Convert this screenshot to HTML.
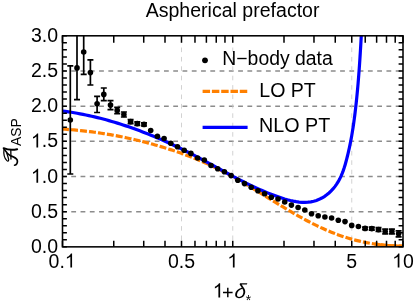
<!DOCTYPE html><html><head><meta charset="utf-8"><style>html,body{margin:0;padding:0;background:#fff}</style></head><body><svg width="415" height="305" viewBox="0 0 415 305" style="display:block;will-change:transform;font-family:'Liberation Sans',sans-serif"><rect width="415" height="305" fill="#fff"/><defs><clipPath id="c"><rect x="62.5" y="35.8" width="340.5" height="211.05"/></clipPath></defs><path d="M62.0 211.67H403.0M62.0 176.50H403.0M62.0 141.32H403.0M62.0 106.15H403.0M62.0 70.97H403.0" stroke="#8c8c8c" stroke-width="1.45" stroke-dasharray="4.8 4.47" fill="none"/><path d="M181.50 38.1V246.85M232.75 38.1V246.85M351.75 38.1V246.85" stroke="#c6c6c6" stroke-width="0.8" stroke-dasharray="4.6 4.8" fill="none"/><g clip-path="url(#c)" fill="none"><path d="M62.53 129.10L64.81 129.25L67.10 129.41L69.38 129.58L71.66 129.76L73.95 129.95L76.23 130.16L78.51 130.38L80.79 130.61L83.07 130.85L85.35 131.10L87.63 131.37L89.90 131.65L92.18 131.94L94.45 132.24L96.72 132.55L99.00 132.88L101.27 133.22L103.53 133.57L105.80 133.93L108.07 134.31L110.33 134.69L112.59 135.09L114.85 135.50L117.11 135.92L119.36 136.36L121.62 136.80L123.87 137.26L126.12 137.73L128.36 138.21L130.61 138.71L132.85 139.21L135.09 139.73L137.32 140.26L139.56 140.80L141.79 141.35L144.01 141.92L146.24 142.50L148.46 143.08L150.68 143.68L152.89 144.30L155.11 144.92L157.31 145.56L159.52 146.21L161.72 146.86L163.92 147.54L166.11 148.22L168.30 148.91L170.49 149.62L172.67 150.34L174.85 151.07L177.02 151.82L179.19 152.57L181.35 153.34L183.51 154.12L185.66 154.92L187.81 155.72L189.96 156.54L192.09 157.38L194.23 158.22L196.35 159.08L198.47 159.96L200.59 160.84L202.69 161.74L204.80 162.66L206.89 163.58L208.98 164.53L211.06 165.48L213.13 166.45L215.20 167.44L217.26 168.44L219.31 169.45L221.35 170.48L223.39 171.52L225.42 172.58L227.44 173.65L229.45 174.74L231.46 175.84L233.46 176.95L235.45 178.07L237.44 179.21L239.42 180.35L241.40 181.51L243.38 182.67L245.35 183.84L247.31 185.02L249.28 186.21L251.24 187.40L253.20 188.59L255.16 189.80L257.11 191.00L259.07 192.21L261.02 193.42L262.98 194.64L264.93 195.86L266.89 197.07L268.85 198.29L270.81 199.50L272.77 200.72L274.73 201.93L276.70 203.14L278.66 204.35L280.63 205.55L282.60 206.74L284.58 207.94L286.56 209.12L288.54 210.30L290.52 211.47L292.51 212.63L294.51 213.78L296.50 214.92L298.50 216.06L300.51 217.18L302.52 218.29L304.54 219.38L306.56 220.47L308.59 221.54L310.63 222.59L312.67 223.63L314.72 224.65L316.77 225.66L318.83 226.64L320.90 227.61L322.98 228.57L325.06 229.50L327.15 230.41L329.25 231.30L331.36 232.17L333.47 233.01L335.60 233.84L337.73 234.63L339.88 235.41L342.03 236.16L344.19 236.88L346.37 237.58L348.55 238.25L350.74 238.89L352.95 239.50L355.16 240.09L357.38 240.64L359.61 241.18L361.85 241.68L364.10 242.16L366.35 242.60L368.62 243.03L370.89 243.42L373.16 243.79L375.44 244.13L377.73 244.45L380.02 244.74L382.32 245.00L384.62 245.24L386.92 245.45L389.23 245.64L391.54 245.80L393.86 245.94L396.17 246.05L398.49 246.13L400.81 246.19L403.13 246.23" stroke="#ff8000" stroke-width="3.2" stroke-dasharray="6.95 2.08" stroke-dashoffset="0.5"/><path d="M374.64 244.02L375.55 244.15L376.46 244.28L377.37 244.40L378.28 244.52L379.19 244.64L380.11 244.75L381.02 244.86L381.94 244.96L382.85 245.06L383.77 245.16L384.69 245.25L385.61 245.34L386.52 245.42L387.44 245.50L388.36 245.57L389.28 245.64L390.20 245.71L391.13 245.77L392.05 245.83L392.97 245.89L393.89 245.94L394.81 245.99L395.74 246.03L396.66 246.07L397.58 246.10L398.51 246.13L399.43 246.16L400.36 246.18L401.28 246.20L402.20 246.22L403.13 246.23" stroke="#ff8000" stroke-width="3.2"/><path d="M62.49 111.01L65.44 111.41L68.38 111.83L71.32 112.29L74.25 112.77L77.17 113.28L80.09 113.81L83.00 114.38L85.90 114.97L88.80 115.58L91.69 116.23L94.58 116.90L97.46 117.59L100.33 118.31L103.20 119.06L106.06 119.82L108.91 120.62L111.76 121.43L114.60 122.27L117.43 123.14L120.26 124.02L123.08 124.93L125.89 125.86L128.70 126.81L131.50 127.78L134.29 128.78L137.08 129.79L139.86 130.83L142.63 131.88L145.39 132.95L148.15 134.05L150.90 135.16L153.65 136.29L156.38 137.43L159.11 138.60L161.83 139.78L164.55 140.98L167.26 142.20L169.95 143.43L172.65 144.68L175.33 145.94L178.01 147.22L180.68 148.51L183.34 149.82L186.00 151.14L188.64 152.48L191.28 153.83L193.91 155.19L196.54 156.56L199.16 157.95L201.77 159.35L204.37 160.75L206.97 162.16L209.57 163.58L212.17 165.00L214.76 166.42L217.35 167.84L219.94 169.26L222.54 170.68L225.13 172.10L227.73 173.51L230.34 174.91L232.94 176.30L235.56 177.68L238.18 179.05L240.80 180.41L243.44 181.75L246.08 183.07L248.74 184.38L251.40 185.66L254.08 186.93L256.77 188.17L259.47 189.38L262.19 190.57L264.93 191.74L267.68 192.87L270.45 193.97L273.24 195.04L276.04 196.08L278.87 197.08L281.71 198.04L284.58 198.95L287.46 199.78L290.36 200.53L293.28 201.17L296.20 201.69L299.14 202.08L302.09 202.30L305.03 202.35L307.95 202.21L310.84 201.85L313.69 201.26L316.46 200.43L319.16 199.36L321.77 198.05L324.29 196.54L326.70 194.83L328.99 192.94L331.16 190.90L333.19 188.71L335.07 186.39L336.80 183.96L338.36 181.44L339.78 178.84L341.05 176.16L342.20 173.42L343.25 170.63L344.20 167.80L345.08 164.93L345.90 162.05L346.67 159.16L347.40 156.26L348.10 153.36L348.77 150.46L349.41 147.56L350.01 144.65L350.59 141.75L351.15 138.84L351.67 135.92L352.17 133.01L352.65 130.09L353.11 127.17L353.54 124.25L353.96 121.32L354.36 118.39L354.74 115.46L355.10 112.53L355.45 109.60L355.79 106.66L356.12 103.72L356.43 100.77L356.74 97.83L357.03 94.88L357.31 91.93L357.59 88.98L357.85 86.03L358.11 83.07L358.35 80.12L358.59 77.16L358.82 74.20L359.05 71.24L359.26 68.28L359.47 65.32L359.67 62.36L359.87 59.40L360.06 56.43L360.25 53.47L360.43 50.51L360.61 47.54L360.78 44.58L360.95 41.62L361.12 38.66L361.28 35.70L361.44 32.74L361.60 29.78L361.75 26.82L361.91 23.87L362.06 20.91L362.22 17.96L362.37 15.01" stroke="#0000ff" stroke-width="3.2"/><path d="M70.30 65.80V174.00M67.30 65.80h6.0M67.30 174.00h6.0M77.00 0.00V99.70M74.00 0.00h6.0M74.00 99.70h6.0M83.70 0.00V74.40M80.70 0.00h6.0M80.70 74.40h6.0M90.40 59.90V85.00M87.40 59.90h6.0M87.40 85.00h6.0M97.10 96.40V112.50M94.10 96.40h6.0M94.10 112.50h6.0M103.80 88.00V100.70M100.80 88.00h6.0M100.80 100.70h6.0M110.50 100.70V109.70M107.50 100.70h6.0M107.50 109.70h6.0M117.20 107.30V113.70M114.20 107.30h6.0M114.20 113.70h6.0M123.90 112.00V117.00M120.90 112.00h6.0M120.90 117.00h6.0M130.60 119.60V123.60M127.60 119.60h6.0M127.60 123.60h6.0M137.30 121.80V125.40M134.30 121.80h6.0M134.30 125.40h6.0M144.00 122.80V126.00M141.00 122.80h6.0M141.00 126.00h6.0M365.10 227.20V229.60M362.10 227.20h6.0M362.10 229.60h6.0M371.80 227.10V230.10M368.80 227.10h6.0M368.80 230.10h6.0M378.50 227.70V231.50M375.50 227.70h6.0M375.50 231.50h6.0M385.20 229.20V233.80M382.20 229.20h6.0M382.20 233.80h6.0M391.90 229.10V233.90M388.90 229.10h6.0M388.90 233.90h6.0M398.60 230.80V236.80M395.60 230.80h6.0M395.60 236.80h6.0" stroke="#000" stroke-width="1.7"/><g fill="#000"><circle cx="70.30" cy="120.00" r="2.8"/><circle cx="77.00" cy="67.90" r="2.8"/><circle cx="83.70" cy="52.00" r="2.8"/><circle cx="90.40" cy="72.60" r="2.8"/><circle cx="97.10" cy="103.80" r="2.8"/><circle cx="103.80" cy="94.40" r="2.8"/><circle cx="110.50" cy="105.10" r="2.8"/><circle cx="117.20" cy="110.40" r="2.8"/><circle cx="123.90" cy="114.50" r="2.8"/><circle cx="130.60" cy="121.60" r="2.8"/><circle cx="137.30" cy="123.60" r="2.8"/><circle cx="144.00" cy="124.40" r="2.8"/><circle cx="150.70" cy="130.50" r="2.8"/><circle cx="157.40" cy="136.30" r="2.8"/><circle cx="164.10" cy="138.50" r="2.8"/><circle cx="170.80" cy="143.20" r="2.8"/><circle cx="177.50" cy="146.80" r="2.8"/><circle cx="184.20" cy="150.30" r="2.8"/><circle cx="190.90" cy="153.40" r="2.8"/><circle cx="197.60" cy="158.00" r="2.8"/><circle cx="204.30" cy="160.00" r="2.8"/><circle cx="211.00" cy="165.50" r="2.8"/><circle cx="217.70" cy="168.70" r="2.8"/><circle cx="224.40" cy="171.80" r="2.8"/><circle cx="231.10" cy="175.60" r="2.8"/><circle cx="237.80" cy="180.30" r="2.8"/><circle cx="244.50" cy="183.60" r="2.8"/><circle cx="251.20" cy="187.20" r="2.8"/><circle cx="257.90" cy="190.70" r="2.8"/><circle cx="264.60" cy="193.70" r="2.8"/><circle cx="271.30" cy="197.30" r="2.8"/><circle cx="278.00" cy="199.00" r="2.8"/><circle cx="284.70" cy="202.00" r="2.8"/><circle cx="291.40" cy="205.10" r="2.8"/><circle cx="298.10" cy="207.50" r="2.8"/><circle cx="304.80" cy="210.00" r="2.8"/><circle cx="311.50" cy="213.80" r="2.8"/><circle cx="318.20" cy="215.80" r="2.8"/><circle cx="324.90" cy="217.00" r="2.8"/><circle cx="331.60" cy="218.00" r="2.8"/><circle cx="338.30" cy="220.20" r="2.8"/><circle cx="345.00" cy="221.60" r="2.8"/><circle cx="351.70" cy="225.40" r="2.8"/><circle cx="358.40" cy="226.50" r="2.8"/><circle cx="365.10" cy="228.40" r="2.8"/><circle cx="371.80" cy="228.60" r="2.8"/><circle cx="378.50" cy="229.60" r="2.8"/><circle cx="385.20" cy="231.50" r="2.8"/><circle cx="391.90" cy="231.50" r="2.8"/><circle cx="398.60" cy="233.80" r="2.8"/></g></g><path d="M62.50 246.85v-6M62.50 35.8v7M113.75 246.85v-6M113.75 35.8v7M143.73 246.85v-6M143.73 35.8v7M165.00 246.85v-6M165.00 35.8v7M181.50 246.85v-6M181.50 35.8v7M194.98 246.85v-6M194.98 35.8v7M206.38 246.85v-6M206.38 35.8v7M216.25 246.85v-6M216.25 35.8v7M224.96 246.85v-6M224.96 35.8v7M232.75 246.85v-6M232.75 35.8v7M284.00 246.85v-6M284.00 35.8v7M313.98 246.85v-6M313.98 35.8v7M335.25 246.85v-6M335.25 35.8v7M351.75 246.85v-6M351.75 35.8v7M365.23 246.85v-6M365.23 35.8v7M376.63 246.85v-6M376.63 35.8v7M386.50 246.85v-6M386.50 35.8v7M395.21 246.85v-6M395.21 35.8v7M403.00 246.85v-6M403.00 35.8v7M62.5 246.85h4.4M403.0 246.85h-4.4M62.5 239.81h4.4M403.0 239.81h-4.4M62.5 232.78h4.4M403.0 232.78h-4.4M62.5 225.75h4.4M403.0 225.75h-4.4M62.5 218.71h4.4M403.0 218.71h-4.4M62.5 211.67h4.4M403.0 211.67h-4.4M62.5 204.64h4.4M403.0 204.64h-4.4M62.5 197.60h4.4M403.0 197.60h-4.4M62.5 190.57h4.4M403.0 190.57h-4.4M62.5 183.53h4.4M403.0 183.53h-4.4M62.5 176.50h4.4M403.0 176.50h-4.4M62.5 169.46h4.4M403.0 169.46h-4.4M62.5 162.43h4.4M403.0 162.43h-4.4M62.5 155.39h4.4M403.0 155.39h-4.4M62.5 148.36h4.4M403.0 148.36h-4.4M62.5 141.32h4.4M403.0 141.32h-4.4M62.5 134.29h4.4M403.0 134.29h-4.4M62.5 127.25h4.4M403.0 127.25h-4.4M62.5 120.22h4.4M403.0 120.22h-4.4M62.5 113.18h4.4M403.0 113.18h-4.4M62.5 106.15h4.4M403.0 106.15h-4.4M62.5 99.11h4.4M403.0 99.11h-4.4M62.5 92.08h4.4M403.0 92.08h-4.4M62.5 85.04h4.4M403.0 85.04h-4.4M62.5 78.01h4.4M403.0 78.01h-4.4M62.5 70.97h4.4M403.0 70.97h-4.4M62.5 63.94h4.4M403.0 63.94h-4.4M62.5 56.90h4.4M403.0 56.90h-4.4M62.5 49.87h4.4M403.0 49.87h-4.4M62.5 42.83h4.4M403.0 42.83h-4.4M62.5 35.80h4.4M403.0 35.80h-4.4" stroke="#000" stroke-width="1.5" fill="none"/><rect x="62.5" y="35.8" width="340.5" height="211.05" fill="none" stroke="#000" stroke-width="1.55"/><g font-size="19.5" fill="#000"><text x="58" y="253.15" text-anchor="end">0.0</text><text x="58" y="217.91" text-anchor="end">0.5</text><path transform="translate(30.89,182.67) scale(0.00952,-0.00952)" d="M763 0H583V1147Q518 1085 412.5 1023T223 930V1104Q373 1174.5 485 1275T644 1470H763Z"/><text x="41.74" y="182.67">.0</text><path transform="translate(30.89,147.42) scale(0.00952,-0.00952)" d="M763 0H583V1147Q518 1085 412.5 1023T223 930V1104Q373 1174.5 485 1275T644 1470H763Z"/><text x="41.74" y="147.42">.5</text><text x="58" y="112.18" text-anchor="end">2.0</text><text x="58" y="76.94" text-anchor="end">2.5</text><text x="58" y="41.70" text-anchor="end">3.0</text><text x="48.55" y="267.6">0.</text><path transform="translate(64.81,267.60) scale(0.00952,-0.00952)" d="M763 0H583V1147Q518 1085 412.5 1023T223 930V1104Q373 1174.5 485 1275T644 1470H763Z"/><text x="181.50" y="267.6" text-anchor="middle">0.5</text><path transform="translate(227.33,267.60) scale(0.00952,-0.00952)" d="M763 0H583V1147Q518 1085 412.5 1023T223 930V1104Q373 1174.5 485 1275T644 1470H763Z"/><text x="351.75" y="267.6" text-anchor="middle">5</text><path transform="translate(392.16,267.60) scale(0.00952,-0.00952)" d="M763 0H583V1147Q518 1085 412.5 1023T223 930V1104Q373 1174.5 485 1275T644 1470H763Z"/><text x="403.00" y="267.6">0</text><text x="145.7" y="17.3" font-size="19.5" textLength="173.8" lengthAdjust="spacingAndGlyphs">Aspherical prefactor</text><path transform="translate(212.70,297.50) scale(0.00977,-0.00977)" d="M763 0H583V1147Q518 1085 412.5 1023T223 930V1104Q373 1174.5 485 1275T644 1470H763Z"/><text transform="translate(233.9,297.7) skewX(-7)" font-style="italic" font-size="20.4">δ</text><path d="M223.0 292.45H232.6M227.8 287.7V297.2" stroke="#000" stroke-width="1.45" fill="none"/><text x="245.7" y="305.3" font-size="13.8">*</text><text x="222.3" y="65.2" textLength="110.5" lengthAdjust="spacingAndGlyphs">N−body data</text><text x="259.3" y="96.8" textLength="56.5" lengthAdjust="spacingAndGlyphs">LO PT</text><text x="259.1" y="132.2" textLength="71.2" lengthAdjust="spacingAndGlyphs">NLO PT</text></g><circle cx="205" cy="60.3" r="2.9" fill="#000"/><path d="M202.6 91.4H247.4" stroke="#ff8000" stroke-width="3.2" stroke-dasharray="7.45 1.85" fill="none"/><path d="M202.6 127.4H247.6" stroke="#0000ff" stroke-width="3.2" fill="none"/><text transform="translate(21.4,146.1) rotate(-90)" font-size="13.9" fill="#000">ASP</text><g fill="none" stroke="#000" stroke-linecap="round" stroke-linejoin="round"><path d="M3.64 148.17Q10.06 150.74 17.15 149.23" stroke-width="2.0"/><path d="M4.40 149.38C5.91 151.79 7.79 154.43 10.43 155.72C13.08 156.70 16.09 157.45 17.23 160.09C17.98 162.74 16.47 165.00 14.58 165.23" stroke-width="1.7"/><path d="M10.81 150.43L10.96 159.04" stroke-width="1.3"/><path d="M4.02 148.62C3.49 153.30 4.40 158.43 6.89 160.62C7.94 161.45 8.77 160.85 8.62 159.49C8.47 157.83 7.79 155.94 6.89 153.45" stroke-width="1.25"/></g></svg></body></html>
